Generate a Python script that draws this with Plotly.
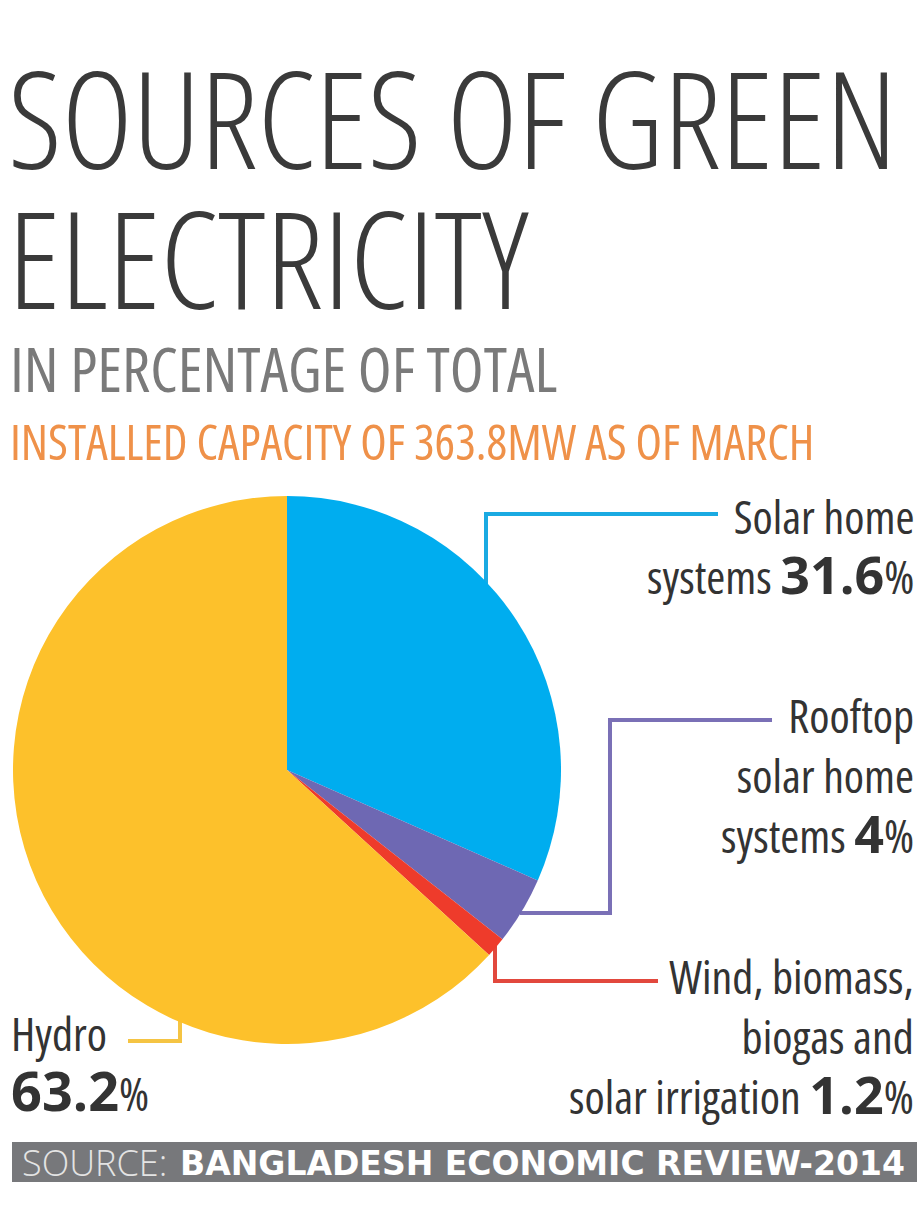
import plotly.graph_objects as go

W, H = 917, 1217

# ---- data ----
categories = ["Solar home systems", "Rooftop solar home systems",
              "Wind, biomass, biogas and solar irrigation", "Hydro"]
shares = [31.6, 4.0, 1.2, 63.2]
slice_colors = ["#00ADEF", "#6E68B3", "#EE3B2B", "#FDC12B"]
line_colors = ["#1AAAE2", "#7A70B6", "#E2483D", "#F5C443"]


def px(x):
    return x / W


def py(y):
    return 1 - y / H


fig = go.Figure()

fig.add_trace(go.Pie(
    labels=categories, values=shares, sort=False, direction="clockwise",
    rotation=0, textinfo="none", showlegend=False,
    marker=dict(colors=slice_colors, line=dict(width=0)),
    domain=dict(x=[px(13), px(561)], y=[py(1044), py(496)]),
    hovertemplate="%{label}: %{value}%<extra></extra>",
))

BASE = "Open Sans"
DARK = "#333333"


def cond(t, weight=400, stretch="condensed"):
    return f'<span style="font-stretch:{stretch};font-weight:{weight}">{t}</span>'


def ann(x, y, text, size, color=DARK, xanchor="left", align="left", family=BASE):
    fig.add_annotation(x=px(x), y=py(y), xref="paper", yref="paper",
                       xanchor=xanchor, yanchor="middle", align=align,
                       showarrow=False, borderpad=0, text=text,
                       font=dict(family=family, size=size, color=color))


# titles
ann(7, 117, cond("SOURCES OF GREEN", 300), 135, color="#3a3a3a")
ann(7, 257, cond("ELECTRICITY", 300), 135, color="#3a3a3a")
ann(9, 368, cond("IN PERCENTAGE OF TOTAL", 400), 62, color="#7a7a7a")
ann(9, 441, cond("INSTALLED CAPACITY OF 363.8MW AS OF MARCH", 400), 48.5, color="#EF9149")


# labels
def big(v, size):
    return (f'<span style="font-weight:700;font-size:{size}px">{v}</span>'
            + cond("%", 400))


def lines(*parts):
    return "<br>".join(parts)


ann(915, 547, lines(cond("Solar home"), cond("systems ") + big(f"{shares[0]:g}", 52)),
    46, xanchor="right", align="right")
ann(915, 776, lines(cond("Rooftop"), cond("solar home"), cond("systems ") + big(f"{shares[1]:g}", 52)),
    46, xanchor="right", align="right")
ann(915, 1037, lines(cond("Wind, biomass,"), cond("biogas and"),
                     cond("solar irrigation ") + big(f"{shares[2]:g}", 52)),
    46, xanchor="right", align="right")
ann(10, 1064, lines(cond("Hydro"), big(f"{shares[3]:g}", 54)), 46)

# leader lines
paths = [
    [(718, 514), (486, 514), (486, 585)],
    [(772, 720), (610, 720), (610, 913), (520, 913)],
    [(495, 938), (495, 981), (658, 981)],
    [(128, 1041), (180, 1041), (180, 1018)],
]
for pts, col in zip(paths, line_colors):
    d = "M " + " L ".join(f"{px(x):.5f},{py(y):.5f}" for x, y in pts)
    fig.add_shape(type="path", path=d, xref="paper", yref="paper",
                  line=dict(color=col, width=4), layer="below")

# source bar
fig.add_shape(type="rect", xref="paper", yref="paper",
              x0=px(12), x1=px(917), y0=py(1182), y1=py(1142),
              fillcolor="#77787B", line=dict(width=0), layer="below")
ann(21, 1162, cond("SOURCE:", 300, "normal"), 36, color="#e4e4e4")
ann(906, 1163, "<b>BANGLADESH ECONOMIC REVIEW-2014</b>", 33, color="#ffffff",
    xanchor="right", family="DejaVu Sans")

fig.update_layout(width=W, height=H, margin=dict(l=0, r=0, t=0, b=0),
                  paper_bgcolor="white", plot_bgcolor="white",
                  xaxis=dict(visible=False), yaxis=dict(visible=False))
fig.write_html("out.html")
